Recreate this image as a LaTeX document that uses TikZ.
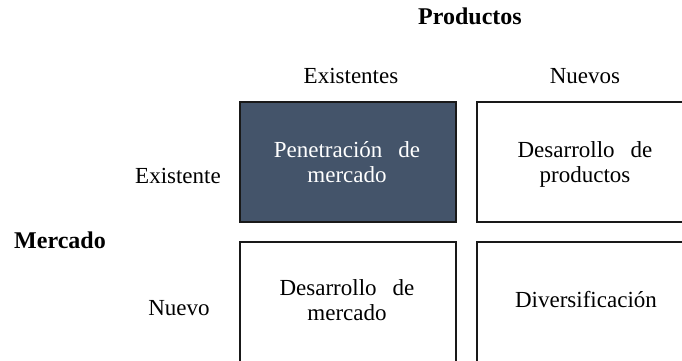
\documentclass[tikz,border=0pt]{standalone}
\usepackage{fontspec}
\setmainfont{Liberation Serif}
\definecolor{darkslate}{HTML}{44546A}
\tikzset{
  cell/.style={draw=black!90, line width=1.2pt, minimum width=216pt, minimum height=120pt, inner sep=0pt},
  lbl/.style={anchor=base, inner sep=0pt, font=\fontsize{23}{25}\selectfont},
  hdr/.style={anchor=base, inner sep=0pt, font=\fontsize{24}{26}\selectfont\bfseries},
}
\newcommand{\gapsp}{\hspace{16pt}}
\newcommand{\twolines}[2]{\begin{tabular}[t]{@{}c@{}}#1\\#2\end{tabular}}
\begin{document}
\begin{tikzpicture}[x=1pt,y=-1pt]
\useasboundingbox (0,0) rectangle (682,360);
\clip (0,0) rectangle (682,360);
\fill[white] (0,0) rectangle (682,360);
% boxes
\node[cell, fill=darkslate] (b11) at (348,162) {};
\node[cell] (b12) at (585,162) {};
\node[cell] (b21) at (348,302) {};
\node[cell] (b22) at (585,302) {};
% headers
\node[hdr] (prod) at (470,24) {Productos};
\node[lbl] (exs) at (351,83) {Existentes};
\node[lbl] (nuevos) at (585,83) {Nuevos};
\node[lbl] (exi) at (178,183) {Existente};
\node[hdr] (merc) at (60,248) {Mercado};
\node[lbl] (nuevo) at (179,315) {Nuevo};
% box texts
\node[lbl, text=white] (t11) at (347,157) {\twolines{Penetración\gapsp de}{mercado}};
\node[lbl] (t12) at (585,157) {\twolines{Desarrollo\gapsp de}{productos}};
\node[lbl] (t21) at (347,295) {\twolines{Desarrollo\gapsp de}{mercado}};
\node[lbl] (t22) at (586,307) {Diversificación};
\end{tikzpicture}
\end{document}
